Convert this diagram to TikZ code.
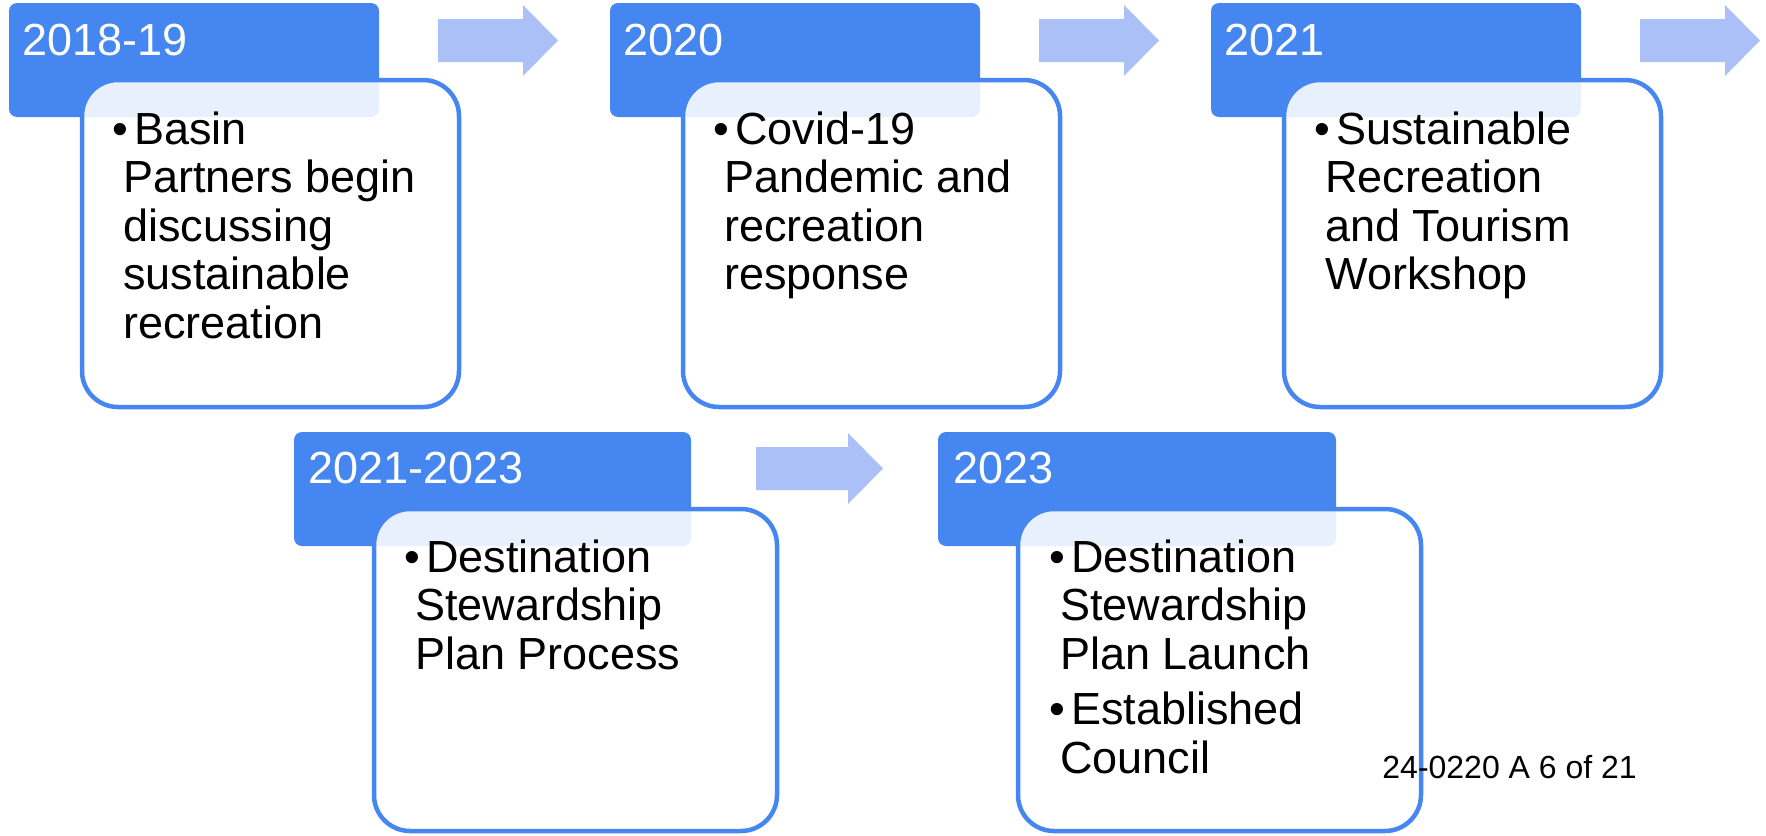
\documentclass[tikz,border=0pt]{standalone}
\usepackage{fontspec}
\setmainfont{Liberation Sans}
\definecolor{hdr}{RGB}{69,134,241}
\definecolor{arr}{RGB}{170,192,247}
\newcommand\bitem[1]{\hbox{\kern-5.5pt\makebox[11pt][l]{\textbullet}#1}}
\newcommand\lin[1]{\hbox{#1}}
\begin{document}
\begin{tikzpicture}[x=0.5pt,y=-0.5pt,
  hdrbox/.style={fill=hdr, draw=none, rounded corners=4pt, inner sep=0, outer sep=0, anchor=north west, minimum height=57pt},
  bodybox/.style={draw=hdr, line width=2.25pt, fill=white, fill opacity=0.88, rounded corners=18pt, inner sep=0, outer sep=0, anchor=north west},
  yeartxt/.style={text=white, anchor=base west, inner sep=0, font=\fontsize{22.5pt}{27pt}\selectfont},
  bodytxt/.style={anchor=base west, inner sep=0, align=left, font=\fontsize{22.5pt}{24.25pt}\selectfont},
  pics/barrow/.style={code={\fill[arr] (0,14) -- (85,14) -- (85,0) -- (120,35.5) -- (85,71) -- (85,57) -- (0,57) -- cycle;}}]
\useasboundingbox (0,0) rectangle (1766,835);
% row 1 headers
\node[hdrbox, minimum width=185pt] (h1) at (9,3) {};
\node[hdrbox, minimum width=185pt] (h2) at (610,3) {};
\node[hdrbox, minimum width=185pt] (h3) at (1211,3) {};
% row 2 headers
\node[hdrbox, minimum width=198.5pt] (h4) at (294,432) {};
\node[hdrbox, minimum width=199pt] (h5) at (938,432) {};
% arrows
\pic at (438,5) {barrow};
\pic at (1039,5) {barrow};
\pic at (1640,5) {barrow};
\fill[arr] (756,447) -- (848,447) -- (848,433) -- (883,468.5) -- (848,504) -- (848,490) -- (756,490) -- cycle;
% body boxes
\node[bodybox, minimum width=188.5pt, minimum height=163.5pt] (b1) at (82,80) {};
\node[bodybox, minimum width=188.5pt, minimum height=163.5pt] (b2) at (683,80) {};
\node[bodybox, minimum width=188.5pt, minimum height=163.5pt] (b3) at (1284,80) {};
\node[bodybox, minimum width=201.5pt, minimum height=161pt] (b4) at (374,509) {};
\node[bodybox, minimum width=201.5pt, minimum height=161pt] (b5) at (1018,509) {};
% year labels
\node[yeartxt] (y1) at (22,55) {2018-19};
\node[yeartxt] (y2) at (623,55) {2020};
\node[yeartxt] (y3) at (1224,55) {2021};
\node[yeartxt] (y4) at (308,483) {2021-2023};
\node[yeartxt] (y5) at (953,483) {2023};
% body texts
\node[bodytxt] (t1) at (123,144) {\vtop{\bitem{Basin}\lin{Partners begin}\lin{discussing}\lin{sustainable}\lin{recreation}}};
\node[bodytxt] (t2) at (724,144) {\vtop{\bitem{Covid-19}\lin{Pandemic and}\lin{recreation}\lin{response}}};
\node[bodytxt] (t3) at (1325,144) {\vtop{\bitem{Sustainable}\lin{Recreation}\lin{and Tourism}\lin{Workshop}}};
\node[bodytxt] (t4) at (415,572) {\vtop{\bitem{Destination}\lin{Stewardship}\lin{Plan Process}}};
\node[bodytxt] (t5) at (1060,572) {\vtop{\bitem{Destination}\lin{Stewardship}\lin{Plan Launch}\vskip3.5pt\bitem{Established}\lin{Council}}};
% footer
\node[anchor=base west, inner sep=0, font=\fontsize{16pt}{19pt}\selectfont] (ft) at (1382,778) {24-0220 A 6 of 21};
\end{tikzpicture}
\end{document}
